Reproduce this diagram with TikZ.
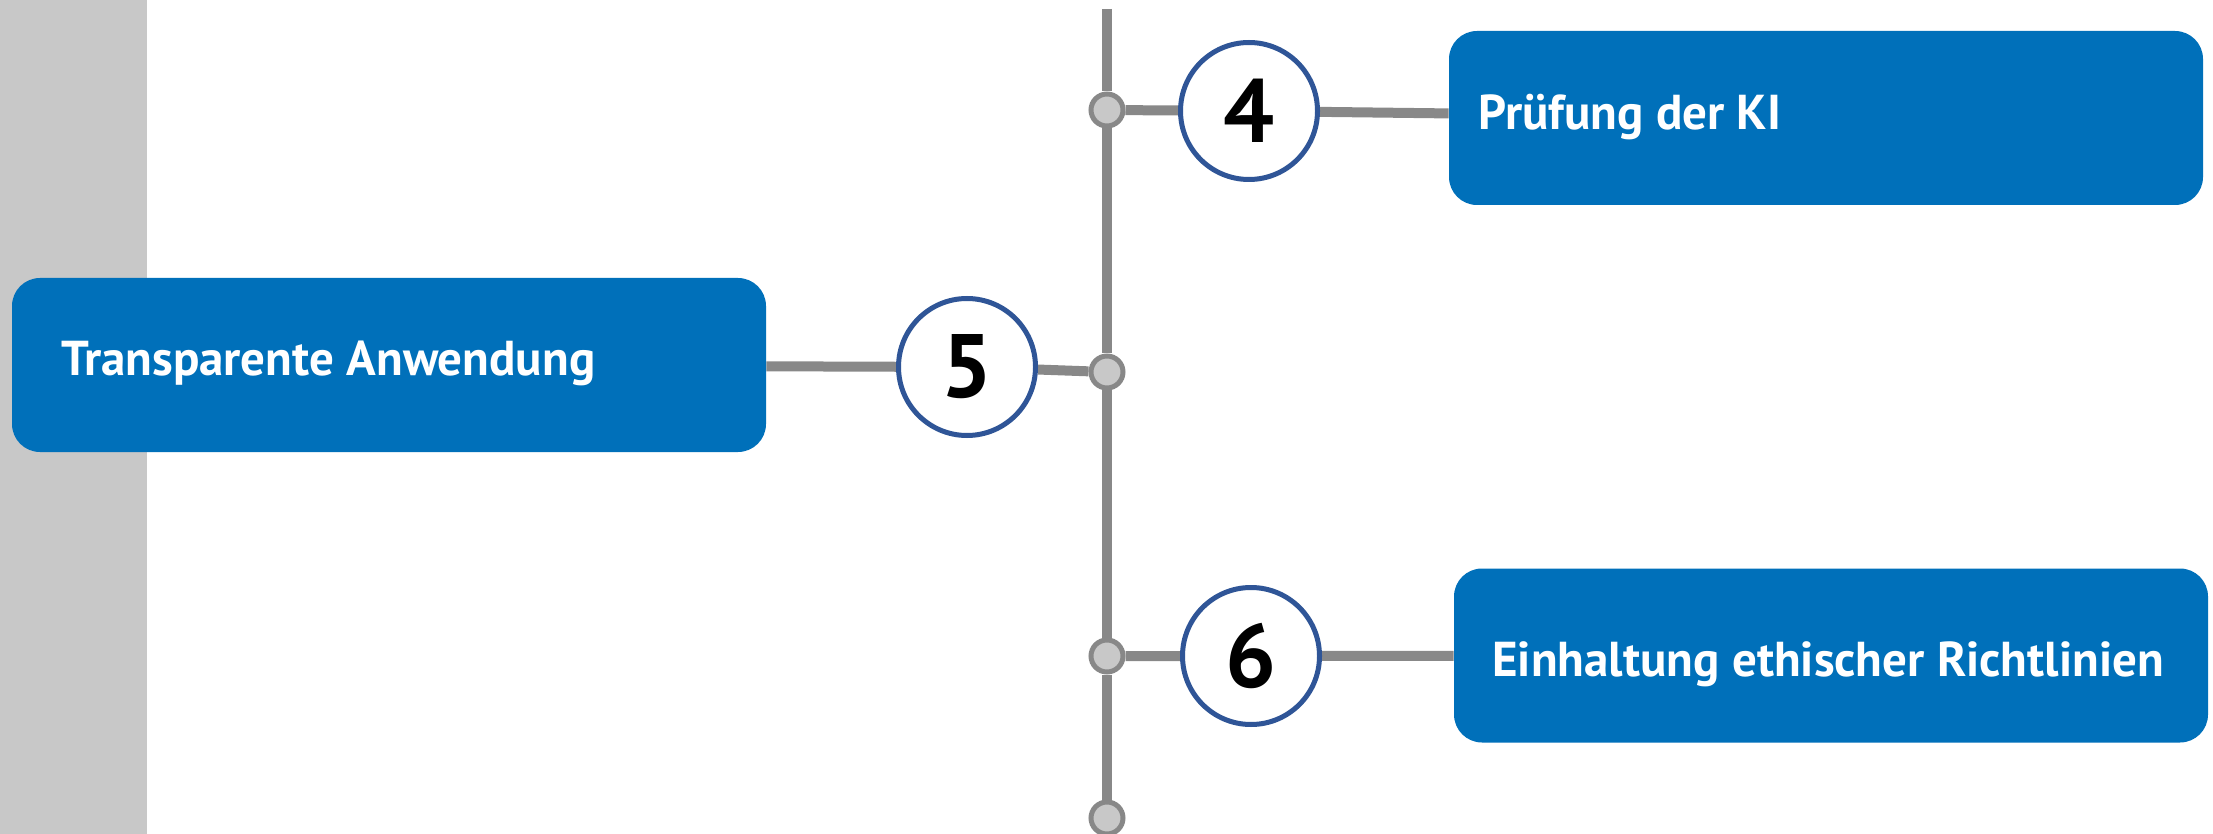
\documentclass[tikz,border=0pt]{standalone}
\usepackage{fontspec}
\setmainfont{PT Sans}
\usepackage{tikz}
\usetikzlibrary{backgrounds}
\definecolor{boxblue}{RGB}{0,112,186}
\definecolor{ringblue}{RGB}{47,85,151}
\definecolor{linegray}{RGB}{136,136,136}
\definecolor{dotgray}{RGB}{200,200,200}

\begin{document}
\begin{tikzpicture}[x=0.5pt,y=0.5pt]
\tikzstyle{every node}+=[inner sep=0pt]
\tikzstyle{box}=[fill=boxblue, rounded corners=14pt, minimum width=377pt, minimum height=87pt]
\tikzstyle{boxtext}=[anchor=base west, text=white, font=\bfseries\fontsize{24.5}{29}\selectfont]
\tikzstyle{num}=[circle, draw=ringblue, line width=2.5pt, fill=white, minimum size=68.5pt, font=\bfseries\fontsize{45}{45}\selectfont]
\tikzstyle{dot}=[circle, draw=linegray, line width=2.5pt, fill=dotgray, minimum size=16pt]
\tikzstyle{wire}=[draw=linegray, line width=5pt]
\useasboundingbox (0,0) rectangle (2213,-834);
\coordinate (top) at (1107,-9);
\node [dot] (d4) at (1107,-110) {};
\node [dot] (d5) at (1107,-372) {};
\node [dot] (d6) at (1107,-656) {};
\node [dot] (dend) at (1107,-818) {};
\node [num] (c4) at (1249,-111) {4};
\node [num] (c5) at (967,-367) {5};
\node [num] (c6) at (1251,-656) {6};
\node [box] (b4) at (1826,-118) {};
\node [box] (b5) at (389,-365) {};
\node [box] (b6) at (1831,-655.5) {};
\node [boxtext] (t4) at (1478,-130) {Prüfung der KI};
\node [boxtext] (t5) at (61,-376) {Transparente Anwendung};
\node [boxtext] (t6) at (1492,-676) {Einhaltung ethischer Richtlinien};
\begin{scope}[on background layer]
\fill [white] (0,0) rectangle (2213,-834);
\fill [dotgray] (0,0) rectangle (147,-834);
\draw [wire] (top) -- (d4) -- (d5) -- (d6) -- (dend);
\draw [wire] (d4) -- (c4) -- (b4);
\draw [wire] (b5) -- (c5) -- (d5);
\draw [wire] (d6) -- (c6) -- (b6);
\end{scope}
\end{tikzpicture}
\end{document}
